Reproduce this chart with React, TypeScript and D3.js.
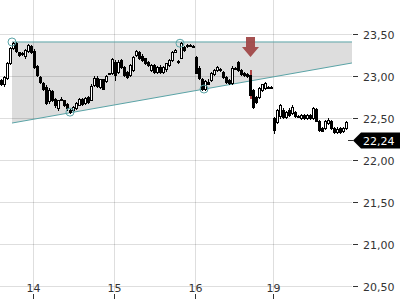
import React from "react";
import * as d3 from "d3";

// candles as [open, high, low, close]
const day13: number[][] = [
  [22.95, 22.96, 22.89, 22.9], [22.9, 23.0, 22.88, 22.99], [22.98, 23.17, 22.97, 23.15],
  [23.15, 23.35, 23.14, 23.33], [23.33, 23.41, 23.32, 23.39], [23.39, 23.4, 23.28, 23.3],
  [23.28, 23.29, 23.24, 23.25], [23.26, 23.29, 23.25, 23.27], [23.24, 23.32, 23.22, 23.31],
  [23.3, 23.38, 23.29, 23.37], [23.36, 23.37, 23.27, 23.29],
];
const day14: number[][] = [
  [23.3, 23.32, 23.1, 23.11], [23.12, 23.13, 23.0, 23.01], [22.99, 23.0, 22.92, 22.93],
  [22.92, 22.93, 22.83, 22.84], [22.87, 22.89, 22.67, 22.68], [22.7, 22.86, 22.68, 22.83],
  [22.82, 22.83, 22.7, 22.71], [22.73, 22.74, 22.63, 22.65], [22.62, 22.72, 22.6, 22.71],
  [22.72, 22.75, 22.71, 22.73], [22.71, 22.72, 22.64, 22.65], [22.67, 22.68, 22.6, 22.62],
  [22.59, 22.61, 22.56, 22.57], [22.59, 22.64, 22.58, 22.63], [22.62, 22.69, 22.61, 22.68],
  [22.66, 22.74, 22.65, 22.73], [22.73, 22.74, 22.66, 22.67], [22.68, 22.75, 22.67, 22.74],
  [22.75, 22.76, 22.68, 22.69], [22.72, 22.9, 22.71, 22.88], [22.89, 23.0, 22.88, 22.98],
  [22.98, 23.0, 22.87, 22.88], [22.87, 22.97, 22.86, 22.96], [22.96, 22.97, 22.84, 22.85],
  [22.94, 23.01, 22.93, 23.0], [23.03, 23.04, 23.03, 23.04], [23.04, 23.22, 23.02, 23.2],
];
const day15: number[][] = [
  [23.17, 23.19, 22.95, 23.01], [23.05, 23.19, 23.04, 23.17], [23.19, 23.2, 23.1, 23.11],
  [23.11, 23.12, 23.0, 23.01], [23.05, 23.06, 22.98, 22.99], [23.01, 23.14, 23.0, 23.13],
  [23.07, 23.24, 23.06, 23.23], [23.25, 23.31, 23.24, 23.3], [23.29, 23.3, 23.2, 23.21],
  [23.24, 23.26, 23.18, 23.19], [23.21, 23.22, 23.14, 23.15], [23.17, 23.18, 23.12, 23.13],
  [23.07, 23.14, 23.06, 23.13], [23.13, 23.14, 23.03, 23.05], [23.05, 23.12, 23.04, 23.11],
  [23.11, 23.13, 23.04, 23.05], [23.05, 23.12, 23.04, 23.11], [23.08, 23.16, 23.06, 23.15],
  [23.13, 23.2, 23.12, 23.19], [23.19, 23.3, 23.18, 23.29], [23.29, 23.32, 23.28, 23.31],
  [23.18, 23.19, 23.16, 23.17], [23.22, 23.4, 23.21, 23.39], [23.35, 23.36, 23.3, 23.31],
  [23.36, 23.38, 23.35, 23.37], [23.37, 23.38, 23.36, 23.37], [23.36, 23.37, 23.35, 23.36],
];
const day16: number[][] = [
  [23.23, 23.24, 23.03, 23.04], [23.1, 23.12, 22.97, 22.98], [22.97, 22.98, 22.83, 22.84],
  [22.84, 22.95, 22.83, 22.94], [22.93, 22.96, 22.9, 22.91], [22.95, 23.05, 22.94, 23.04],
  [23.02, 23.08, 23.01, 23.07], [23.07, 23.12, 23.06, 23.11], [23.08, 23.09, 23.06, 23.07],
  [23.05, 23.06, 22.98, 22.99], [22.99, 23.0, 22.92, 22.93], [22.95, 22.96, 22.91, 22.92],
  [22.92, 23.12, 22.91, 23.1], [23.1, 23.11, 23.08, 23.09], [23.17, 23.18, 23.06, 23.07],
  [23.07, 23.08, 23.01, 23.02], [23.04, 23.05, 23.0, 23.01], [23.02, 23.03, 22.99, 23.0],
  [23.01, 23.07, 22.74, 22.77], [22.83, 22.84, 22.62, 22.63], [22.75, 22.76, 22.68, 22.69],
  [22.75, 22.87, 22.74, 22.86], [22.83, 22.91, 22.82, 22.9], [22.86, 22.93, 22.85, 22.92],
  [22.87, 22.88, 22.86, 22.87], [22.87, 22.88, 22.86, 22.87],
];
const day19: number[][] = [
  [22.5, 22.51, 22.32, 22.36], [22.45, 22.61, 22.44, 22.59], [22.52, 22.67, 22.5, 22.65],
  [22.6, 22.62, 22.5, 22.51], [22.51, 22.58, 22.5, 22.57], [22.6, 22.62, 22.52, 22.54],
  [22.56, 22.65, 22.55, 22.63], [22.57, 22.58, 22.51, 22.52], [22.52, 22.53, 22.51, 22.52],
  [22.5, 22.55, 22.49, 22.54], [22.54, 22.55, 22.49, 22.5], [22.5, 22.55, 22.49, 22.54],
  [22.54, 22.55, 22.49, 22.5], [22.5, 22.63, 22.49, 22.62], [22.61, 22.62, 22.46, 22.47],
  [22.47, 22.48, 22.35, 22.36], [22.38, 22.39, 22.34, 22.35], [22.38, 22.48, 22.37, 22.47],
  [22.44, 22.5, 22.43, 22.48], [22.47, 22.48, 22.37, 22.38], [22.38, 22.39, 22.32, 22.33],
  [22.33, 22.39, 22.32, 22.37], [22.38, 22.39, 22.32, 22.33], [22.34, 22.39, 22.33, 22.38],
  [22.38, 22.46, 22.37, 22.45],
];
const days: number[][][] = [day13, day14, day15, day16, day19];
const dayLabels = ["", "14", "15", "16", "19"];
const yTicks = [20.5, 21.0, 21.5, 22.0, 22.5, 23.0, 23.5];
const lastPrice = 22.24;
const signalIndex = 83;
// triangle annotation: [index, price]
const resistance: number[][] = [[4, 23.405], [117.33, 23.405]];
const support: number[][] = [[4, 22.44], [117.33, 23.155]];
const touchPoints: number[][] = [[4, 23.405], [23.33, 22.57], [60, 23.39], [68, 22.845]];
const arrowPrices = [23.465, 23.345, 23.225];

const locale = d3.formatLocale({ decimal: ",", thousands: ".", grouping: [3], currency: ["", "€"] });
const fmt = locale.format(".2f");

export default function App() {
  const W = 400, H = 300;
  const plotRight = 352;
  const candles = days.flat();
  const dayStart: number[] = [];
  let acc = 0;
  days.forEach((d) => { dayStart.push(acc); acc += d.length; });

  const xBand = d3.scaleBand<number>().domain(d3.range(candles.length)).range([0, candles.length * 3]).padding(0);
  const xLin = d3.scaleLinear().domain([0, candles.length]).range([0, candles.length * 3]);
  const y = d3.scaleLinear().domain([20.5, 23.5]).range([286, 34]);
  const font = "DejaVu Sans, sans-serif";
  const teal = "#5aa3a6";

  const line = d3.line<number[]>().x((d) => xLin(d[0])).y((d) => y(d[1]));
  const area = [...resistance, ...support.slice().reverse()];
  const areaPath = "M" + area.map((d) => `${xLin(d[0])},${y(d[1])}`).join("L") + "Z";

  const ax = xBand(signalIndex)! + 1.5;
  const [a0, a1, a2] = arrowPrices.map((p) => y(p));

  return (
    <svg width={W} height={H} style={{ position: "absolute", left: 0, top: 0, background: "#fff" }}>
      <rect width={W} height={H} fill="#fff" />
      <path d={areaPath} fill="#dddddd" />
      {yTicks.map((t) => (
        <line key={"h" + t} x1={0} x2={plotRight} y1={Math.round(y(t)) + 0.5} y2={Math.round(y(t)) + 0.5} stroke="rgba(0,0,0,0.13)" />
      ))}
      {dayStart.slice(1).map((s) => (
        <line key={"v" + s} x1={xBand(s)! + 0.5} x2={xBand(s)! + 0.5} y1={0} y2={292} stroke="rgba(0,0,0,0.13)" />
      ))}
      <path d={line(resistance)!} stroke={teal} fill="none" strokeWidth={1} />
      <path d={line(support)!} stroke={teal} fill="none" strokeWidth={1} />
      <g shapeRendering="crispEdges">
        {candles.map((c, i) => {
          const [o, h, l, cl] = c;
          const x0 = xBand(i)!;
          const up = cl >= o;
          const top = Math.round(y(Math.max(o, cl)));
          const bot = Math.round(y(Math.min(o, cl)));
          const cx = x0 + 1.5;
          return (
            <g key={i}>
              <line x1={cx} x2={cx} y1={Math.round(y(h))} y2={Math.round(y(l)) + 1} stroke={i === signalIndex ? "#b04545" : "#000"} strokeWidth={i === signalIndex ? 2 : 1} />
              <rect x={x0 + 0.5} y={top + 0.5} width={2} height={Math.max(bot - top, 0.5)} fill={up ? "#fff" : "#000"} stroke="#000" strokeWidth={1} />
            </g>
          );
        })}
      </g>
      {touchPoints.map((p, i) => (
        <circle key={"c" + i} cx={xLin(p[0])} cy={y(p[1])} r={4} fill="none" stroke={teal} strokeWidth={1} />
      ))}
      <path d={`M${ax - 4.5},${a0}H${ax + 4.5}V${a1}H${ax + 8.5}L${ax},${a2}L${ax - 8.5},${a1}H${ax - 4.5}Z`} fill="#a04848" opacity={0.95} />
      {yTicks.map((t) => (
        <g key={"t" + t} transform={`translate(0,${Math.round(y(t)) + 0.5})`}>
          <line x1={353} x2={358} stroke="#333" />
          <text x={363} y={4} fontFamily={font} fontSize={11} fill="#333">{fmt(t)}</text>
        </g>
      ))}
      {dayStart.slice(1).map((s, i) => (
        <g key={"d" + s} transform={`translate(${xBand(s)! + 0.5},0)`}>
          <text x={0} y={292} textAnchor="middle" fontFamily={font} fontSize={11} fill="#333">{dayLabels[i + 1]}</text>
          <line y1={294} y2={299} stroke="#333" />
        </g>
      ))}
      <g transform={`translate(0,${Math.round(y(lastPrice)) + 0.5})`}>
        <line x1={348} x2={353} stroke="#333" />
        <path d="M353,0L361,-8H400V8H361Z" fill="#000" />
        <text x={363} y={4} fontFamily={font} fontSize={11} fill="#fff">{fmt(lastPrice)}</text>
      </g>
    </svg>
  );
}
